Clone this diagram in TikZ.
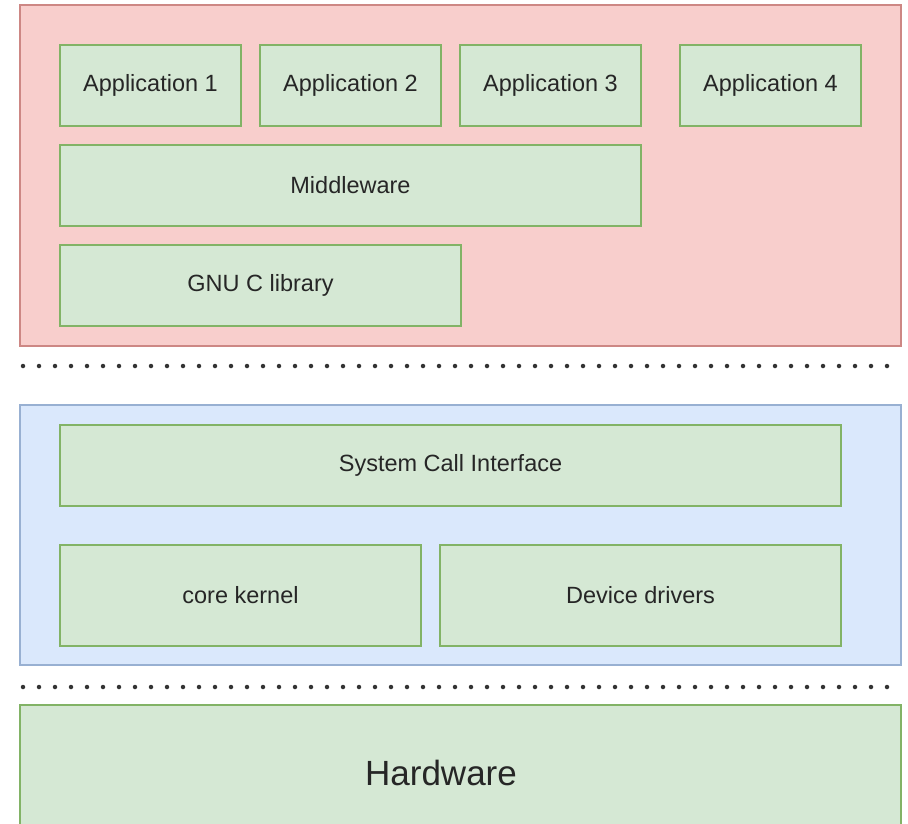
\documentclass[tikz,border=0pt]{standalone}
\usepackage{fontspec}
\setmainfont{Liberation Sans}
\usepackage{xcolor}
\definecolor{userfill}{HTML}{F8CECC}
\definecolor{userline}{HTML}{B85450}
\definecolor{kernfill}{HTML}{DAE8FC}
\definecolor{kernline}{HTML}{6C8EBF}
\definecolor{partfill}{HTML}{D5E8D4}
\definecolor{partline}{HTML}{82B366}

\begin{document}
\begin{tikzpicture}[x=1pt,y=-1pt,
  space/.style={draw,line width=1.5pt,minimum width=881pt,inner sep=0pt},
  part/.style={draw=partline,fill=partfill,line width=1.5pt,minimum height=81pt,inner sep=0pt,font=\fontsize{23.5}{28}\selectfont,text=black!85},
  border/.style={line width=4.5pt,line cap=round,dash pattern=on 0pt off 16pt,draw=black!80}]
 \clip (0,0) rectangle (908,823);
 \fill[white] (0,0) rectangle (908,823);
 % user space
 \node[space,draw=userline!70,fill=userfill,minimum height=341pt] (user) at (460.5,175.5) {};
 \node[part,minimum width=181pt] (app1) at (150.5,85.5) {Application 1};
 \node[part,minimum width=181pt] (app2) at (350.5,85.5) {Application 2};
 \node[part,minimum width=181pt] (app3) at (550.5,85.5) {Application 3};
 \node[part,minimum width=181pt] (app4) at (770.5,85.5) {Application 4};
 \node[part,minimum width=581pt] (mw) at (350.5,185.5) {Middleware};
 \node[part,minimum width=401pt] (libc) at (260.5,285.5) {GNU C library};
 % kernel space
 \node[space,draw=kernline!70,fill=kernfill,minimum height=260pt] (kern) at (460.5,535) {};
 \node[part,minimum width=781pt] (sci) at (450.5,465.5) {System Call Interface};
 \node[part,minimum width=361pt,minimum height=101pt] (core) at (240.5,595.5) {core kernel};
 \node[part,minimum width=401pt,minimum height=101pt] (drv) at (640.5,595.5) {Device drivers};
 % hardware
 \node[part,minimum width=881pt,minimum height=136pt] (hw) at (460.5,773) {};
 \node[font=\fontsize{35}{42}\selectfont,text=black!85,inner sep=0pt] (hwtext) at (441,773) {Hardware};
 % separators
 \coordinate (sepA) at (23,366);
 \coordinate (sepB) at (890,366);
 \coordinate (sepC) at (23,687);
 \coordinate (sepD) at (890,687);
 \draw[border] (sepA) -- (sepB);
 \draw[border] (sepC) -- (sepD);
\end{tikzpicture}
\end{document}
